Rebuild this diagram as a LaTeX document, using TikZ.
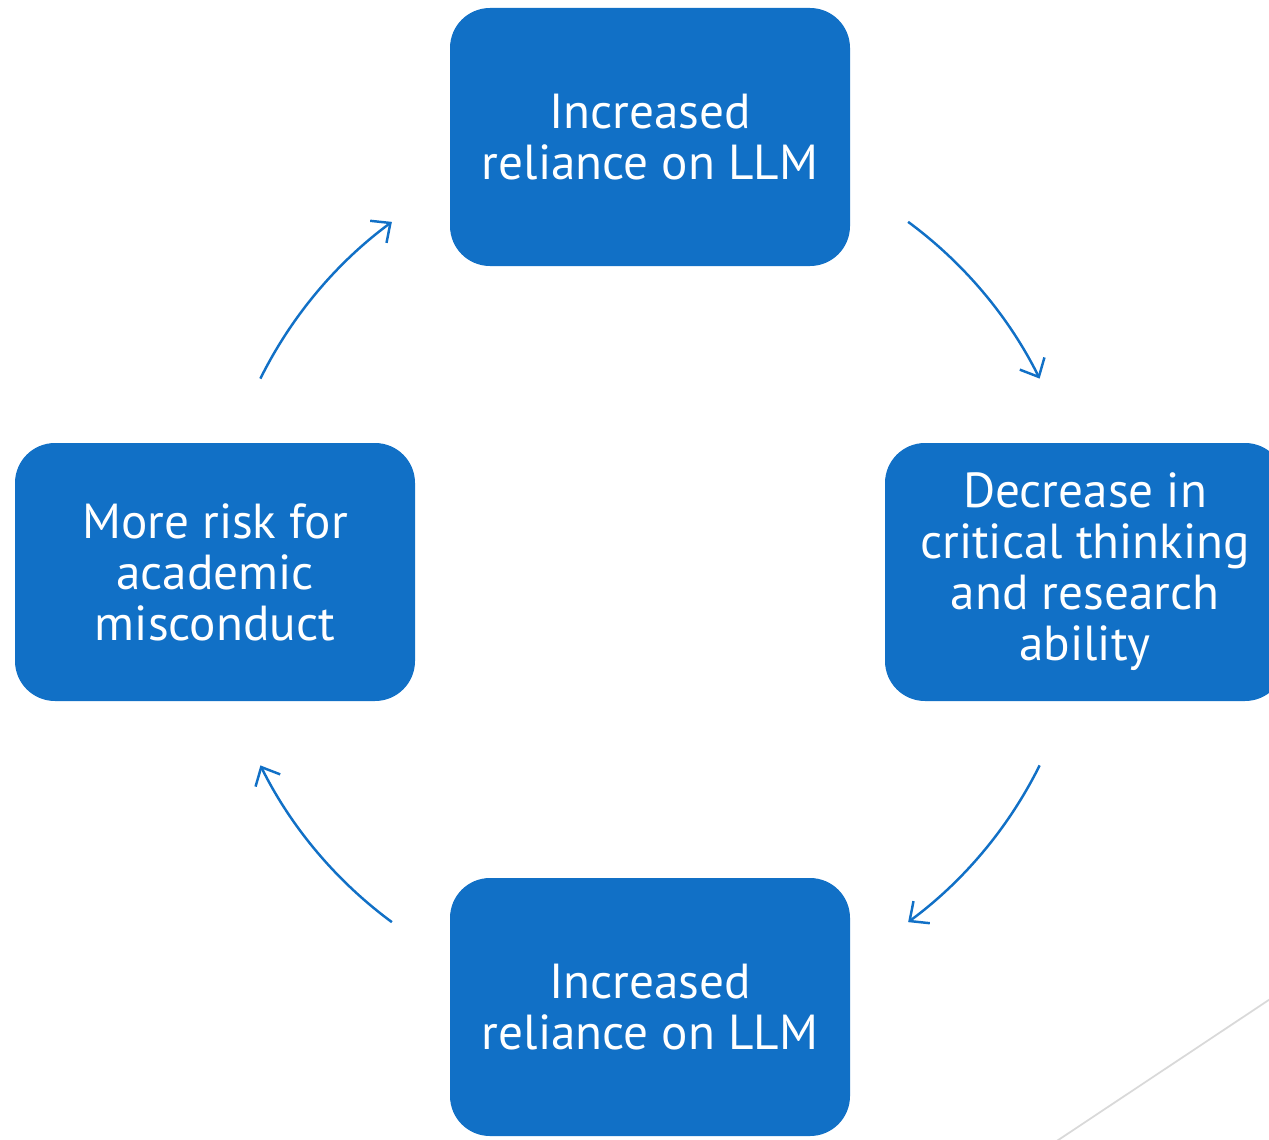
\documentclass[tikz,border=0pt]{standalone}
\usepackage{fontspec}
\setmainfont{PT Sans}
\usepackage{xcolor}
\usetikzlibrary{arrows.meta}
\definecolor{boxblue}{RGB}{17,112,198}
\definecolor{edgegrey}{RGB}{217,217,217}

\begin{document}
\begin{tikzpicture}[every node/.style={rectangle, rounded corners=0.8cm, fill=boxblue, text=white, minimum width=8cm, minimum height=5.16cm, align=center, font=\fontsize{28}{29}\selectfont},
  cyc/.style={draw=boxblue, line width=1.4pt, -{Straight Barb[length=0.3cm, width=0.55cm, line width=1.4pt]}}]
\useasboundingbox (0,0) rectangle (25.38,-22.78);
\clip (0,0) rectangle (25.38,-22.78);

\draw[edgegrey, line width=1pt] (21.0,-22.91) -- (25.6,-19.85);

\node (1) at (13,-2.74) {Increased\\reliance on LLM};
\node (2) at (21.7,-11.44) {Decrease in\\critical thinking\\and research\\ability};
\node (3) at (13,-20.14) {Increased\\reliance on LLM};
\node (4) at (4.3,-11.44) {More risk for\\academic\\misconduct};

\coordinate (c) at (13,-11.44);

\draw[cyc] ([shift={(53.6:8.7)}]c) arc[start angle=53.6, end angle=26.4, radius=8.7];
\draw[cyc] ([shift={(-26.4:8.7)}]c) arc[start angle=-26.4, end angle=-53.6, radius=8.7];
\draw[cyc] ([shift={(233.6:8.7)}]c) arc[start angle=233.6, end angle=206.4, radius=8.7];
\draw[cyc] ([shift={(153.6:8.7)}]c) arc[start angle=153.6, end angle=126.4, radius=8.7];
\end{tikzpicture}
\end{document}
